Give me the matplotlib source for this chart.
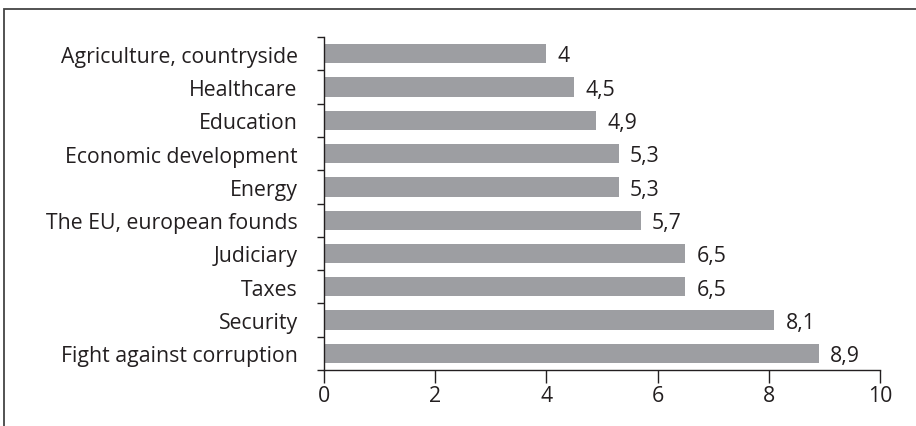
import matplotlib.pyplot as plt
from matplotlib.patches import Rectangle

# Data (bottom to top)
categories = ['Fight against corruption', 'Security', 'Taxes', 'Judiciary',
              'The EU, european founds', 'Energy', 'Economic development',
              'Education', 'Healthcare', 'Agriculture, countryside']
values = [8.9, 8.1, 6.5, 6.5, 5.7, 5.3, 5.3, 4.9, 4.5, 4.0]
xticks = [0, 2, 4, 6, 8, 10]

bar_color = '#9d9ea2'
text_color = '#231f20'
fs = 15.3

plt.rcParams['font.family'] = ['Open Sans', 'DejaVu Sans']

fig = plt.figure(figsize=(9.16, 4.27), dpi=100)
ax = fig.add_axes([0.3537, 0.1311, 0.6070, 0.7799])

y = list(range(len(categories)))
ax.barh(y, values, height=0.58, color=bar_color, zorder=2)

for yi, v in zip(y, values):
    label = ('%g' % v).replace('.', ',')
    ax.text(v + 0.2, yi - 0.07, label, va='center', ha='left',
            fontsize=fs, color=text_color)

ax.set_xlim(0, 10)
ax.set_ylim(-0.5, len(categories) - 0.5)
ax.set_xticks(xticks)
ax.set_xticklabels([str(t) for t in xticks], fontsize=fs, color=text_color)

# category ticks on the boundaries, labels at the centres
ax.set_yticks([i - 0.5 for i in range(len(categories) + 1)])
ax.set_yticklabels([])
ax.set_yticks(y, minor=True)
ax.set_yticklabels(categories, minor=True, fontsize=fs, color=text_color)
ax.tick_params(axis='y', which='minor', length=0, pad=19)
ax.tick_params(axis='y', which='major', length=5, width=1, color='#231f20')
ax.tick_params(axis='x', length=9, width=1, color='#231f20', pad=2)

for side in ['top', 'right']:
    ax.spines[side].set_visible(False)
for side in ['left', 'bottom']:
    ax.spines[side].set_color('#231f20')
    ax.spines[side].set_linewidth(1)

# outer frame
fig.patches.append(Rectangle((4 / 916, -0.05), 1.1, 1.05 - 9.5 / 427,
                             transform=fig.transFigure, fill=False,
                             edgecolor='#444444', linewidth=1.3))

fig.savefig('out.png', dpi=100)
